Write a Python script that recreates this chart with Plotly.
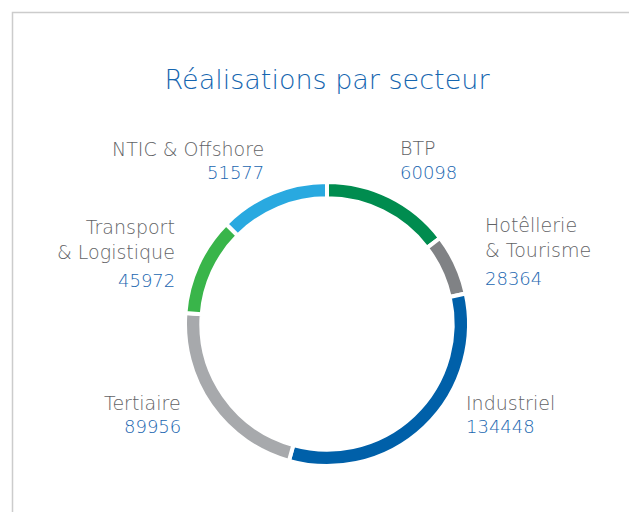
import plotly.graph_objects as go

sectors = ["BTP", "Hotêllerie<br>& Tourisme", "Industriel", "Tertiaire", "Transport<br>& Logistique", "NTIC & Offshore"]
values = [60098, 28364, 134448, 89956, 45972, 51577]
colors = ["#008C4F", "#808285", "#0060A9", "#A7A9AC", "#39B54A", "#29A9E0"]

W, H = 637, 512
OFF = 8  # page body margin


def px(x):
    return (x - OFF) / W


def py(y):
    return 1 - (y - OFF) / H


fig = go.Figure(go.Pie(
    labels=sectors, values=values, sort=False, direction="clockwise", rotation=0,
    hole=0.885, textinfo="none", hoverinfo="label+value",
    marker=dict(colors=colors, line=dict(color="white", width=4)),
    domain=dict(x=[px(185), px(469)], y=[py(466), py(182)]), showlegend=False,
))

# label placement (screen pixels): (x, name_y, value_y, anchor)
placements = [
    (398, 148, 172, "left"),
    (483, 237, 278, "left"),
    (464, 403, 426, "left"),
    (183, 403, 426, "right"),
    (177, 239, 280, "right"),
    (266, 149, 172, "right"),
]
FONT = "DejaVu Sans"
annotations = []
for name, val, (x, ny, vy, anc) in zip(sectors, values, placements):
    annotations.append(dict(x=px(x), y=py(ny), xref="paper", yref="paper", text=name,
                            showarrow=False, xanchor=anc, yanchor="middle", align=anc,
                            font=dict(family=FONT, size=19, color="#626366", weight=200)))
    annotations.append(dict(x=px(x), y=py(vy), xref="paper", yref="paper", text=str(val),
                            showarrow=False, xanchor=anc, yanchor="middle", align=anc,
                            font=dict(family=FONT, size=18, color="#1a66b0", weight=200)))

fig.update_layout(
    width=W, height=H, margin=dict(l=0, r=0, t=0, b=0),
    paper_bgcolor="white", plot_bgcolor="white",
    title=dict(text="Réalisations par secteur", x=px(327), xanchor="center", y=py(80), yanchor="middle",
               font=dict(family=FONT, size=27, color="#1566b0", weight=200)),
    annotations=annotations,
    shapes=[dict(type="rect", xref="paper", yref="paper", x0=px(12.5), x1=1.2, y0=-0.2, y1=py(12.5),
                 line=dict(color="#cccccc", width=1.5), fillcolor="rgba(0,0,0,0)", layer="below")],
)
fig.write_html("out.html")
